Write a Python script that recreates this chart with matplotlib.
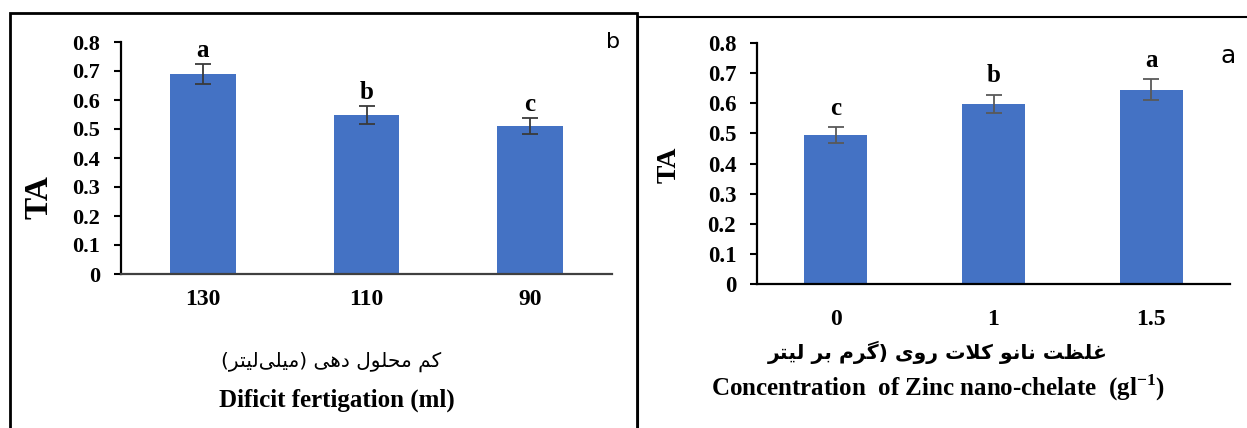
import matplotlib
matplotlib.use("Agg")
import matplotlib.pyplot as plt
from matplotlib.patches import Rectangle
from matplotlib.lines import Line2D

# ---------------- data ----------------
left_categories = ["130", "110", "90"]
left_values = [0.690, 0.548, 0.510]
left_errors = [0.035, 0.031, 0.028]
left_letters = ["a", "b", "c"]

right_categories = ["0", "1", "1.5"]
right_values = [0.494, 0.597, 0.645]
right_errors = [0.027, 0.031, 0.034]
right_letters = ["c", "b", "a"]

y_ticks = [0, 0.1, 0.2, 0.3, 0.4, 0.5, 0.6, 0.7, 0.8]
y_tick_labels = ["0", "0.1", "0.2", "0.3", "0.4", "0.5", "0.6", "0.7", "0.8"]

left_fa_label = "کم محلول دهی (میلی\u200cلیتر)"
left_en_label = "Dificit fertigation (ml)"
right_fa_label = "غلظت نانو کلات روی (گرم بر لیتر"
right_en_label = r"Concentration  of Zinc nano-chelate  (gl$^{\mathbf{-1}}$)"

# ------------- minimal Persian shaping (matplotlib has no shaper) -------------
FORMS = {  # isolated, final, initial, medial
    "\u0627": ("\uFE8D", "\uFE8E", None, None),
    "\u0628": ("\uFE8F", "\uFE90", "\uFE91", "\uFE92"),
    "\u062A": ("\uFE95", "\uFE96", "\uFE97", "\uFE98"),
    "\u062D": ("\uFEA1", "\uFEA2", "\uFEA3", "\uFEA4"),
    "\u062F": ("\uFEA9", "\uFEAA", None, None),
    "\u0631": ("\uFEAD", "\uFEAE", None, None),
    "\u0638": ("\uFEC5", "\uFEC6", "\uFEC7", "\uFEC8"),
    "\u063A": ("\uFECD", "\uFECE", "\uFECF", "\uFED0"),
    "\u0644": ("\uFEDD", "\uFEDE", "\uFEDF", "\uFEE0"),
    "\u0645": ("\uFEE1", "\uFEE2", "\uFEE3", "\uFEE4"),
    "\u0646": ("\uFEE5", "\uFEE6", "\uFEE7", "\uFEE8"),
    "\u0647": ("\uFEE9", "\uFEEA", "\uFEEB", "\uFEEC"),
    "\u0648": ("\uFEED", "\uFEEE", None, None),
    "\u06A9": ("\uFB8E", "\uFB8F", "\uFB90", "\uFB91"),
    "\u06AF": ("\uFB92", "\uFB93", "\uFB94", "\uFB95"),
    "\u06CC": ("\uFBFC", "\uFBFD", "\uFBFE", "\uFBFF"),
}


def shape_rtl(s):
    s = s.replace("\u0643", "\u06A9").replace("\u064A", "\u06CC")
    chars = list(s)
    n = len(chars)

    def dual(c):
        return c in FORMS and FORMS[c][2] is not None

    out = []
    i = 0
    while i < n:
        c = chars[i]
        if c not in FORMS:
            if c != "\u200c":
                out.append(c)
            i += 1
            continue
        jp = i > 0 and dual(chars[i - 1])
        if c == "\u0644" and i + 1 < n and chars[i + 1] == "\u0627":
            out.append("\uFEFC" if jp else "\uFEFB")
            i += 2
            continue
        jn = dual(c) and i + 1 < n and chars[i + 1] in FORMS
        iso, fin, ini, med = FORMS[c]
        out.append(med if (jp and jn) else fin if jp else ini if jn else iso)
        i += 1
    vis = "".join(reversed(out))
    return vis.translate(str.maketrans("()", ")("))


# ---------------- style ----------------
plt.rcParams["mathtext.fontset"] = "custom"
plt.rcParams["mathtext.rm"] = "Liberation Serif"
plt.rcParams["mathtext.bf"] = "Liberation Serif:bold"

BAR = "#4472C4"
SERIF = "Liberation Serif"
W, H = 1247, 428

fig = plt.figure(figsize=(W / 100, H / 100), dpi=100)


def fx(px):
    return px / W


def fy(py):
    return (H - py) / H


# panel frames
fig.add_artist(Rectangle((fx(10), -0.05), fx(637) - fx(10), fy(13) + 0.05,
                         transform=fig.transFigure, fill=False, lw=2.0, ec="black"))
fig.add_artist(Line2D([fx(638), 1.0], [fy(17), fy(17)], transform=fig.transFigure,
                      lw=1.5, color="black"))
fig.add_artist(Line2D([fx(638), fx(638)], [0, fy(17)], transform=fig.transFigure,
                      lw=1.5, color="black"))


def panel(rect, cats, vals, errs, letters, tick_fs, xtick_fs, letter_fs, letter_off,
          xpad, err_color, spine_color):
    ax = fig.add_axes(rect)
    x = list(range(len(cats)))
    ax.bar(x, vals, width=0.4, color=BAR, zorder=2)
    ax.errorbar(x, vals, yerr=errs, fmt="none", ecolor=err_color,
                elinewidth=1.3, capsize=6, capthick=1.3, zorder=3)
    for xi, v, e, lt in zip(x, vals, errs, letters):
        ax.annotate(lt, (xi, v + e), xytext=(0, letter_off), textcoords="offset points",
                    ha="center", va="baseline", fontsize=letter_fs,
                    fontfamily=SERIF, fontweight="bold")
    ax.set_xlim(-0.5, 2.5)
    ax.set_ylim(0, 0.8)
    ax.set_yticks(y_ticks)
    ax.set_yticklabels(y_tick_labels)
    ax.set_xticks(x)
    ax.set_xticklabels(cats)
    for s in ("top", "right"):
        ax.spines[s].set_visible(False)
    ax.spines["left"].set_linewidth(1.6)
    ax.spines["left"].set_color("black")
    ax.spines["bottom"].set_linewidth(1.6)
    ax.spines["bottom"].set_color(spine_color)
    ax.tick_params(axis="y", direction="out", length=5, width=1.5, pad=10,
                   labelsize=tick_fs, color="black")
    ax.tick_params(axis="x", length=0, pad=xpad, labelsize=xtick_fs)
    for lab in ax.get_xticklabels() + ax.get_yticklabels():
        lab.set_fontfamily(SERIF)
        lab.set_fontweight("bold")
    ax.set_facecolor("none")
    return ax


# left panel (b)
panel([fx(121), fy(274), fx(612) - fx(121), fy(42) - fy(274)],
      left_categories, left_values, left_errors, left_letters,
      tick_fs=16, xtick_fs=17, letter_fs=18, letter_off=5, xpad=11,
      err_color="#3a3a3a", spine_color="#404040")

# right panel (a)
panel([fx(757), fy(284), fx(1230) - fx(757), fy(43) - fy(284)],
      right_categories, right_values, right_errors, right_letters,
      tick_fs=16.5, xtick_fs=17, letter_fs=18, letter_off=9, xpad=18,
      err_color="#595959", spine_color="black")

# y labels
fig.text(fx(39), fy(197), "TA", rotation=90, ha="center", va="center",
         fontsize=24, fontfamily=SERIF, fontweight="bold")
fig.text(fx(669), fy(165), "TA", rotation=90, ha="center", va="center",
         fontsize=20, fontfamily=SERIF, fontweight="bold")

# x labels
fig.text(fx(331), fy(362), shape_rtl(left_fa_label), ha="center", va="center",
         fontsize=14.5, fontfamily="DejaVu Sans")
fig.text(fx(337), fy(400), left_en_label, ha="center", va="center",
         fontsize=18, fontfamily=SERIF, fontweight="bold")
fig.text(fx(938), fy(352), shape_rtl(right_fa_label), ha="center", va="center",
         fontsize=14.7, fontfamily="DejaVu Sans", fontweight="bold")
fig.text(fx(938), fy(388), right_en_label, ha="center", va="center",
         fontsize=18, fontfamily=SERIF, fontweight="bold")

# panel tags
fig.text(fx(613), fy(42), "b", ha="center", va="center", fontsize=16,
         fontfamily="DejaVu Sans")
fig.text(fx(1228), fy(56), "a", ha="center", va="center", fontsize=18,
         fontfamily="DejaVu Sans")

fig.savefig("out.png", dpi=100, facecolor="white")
